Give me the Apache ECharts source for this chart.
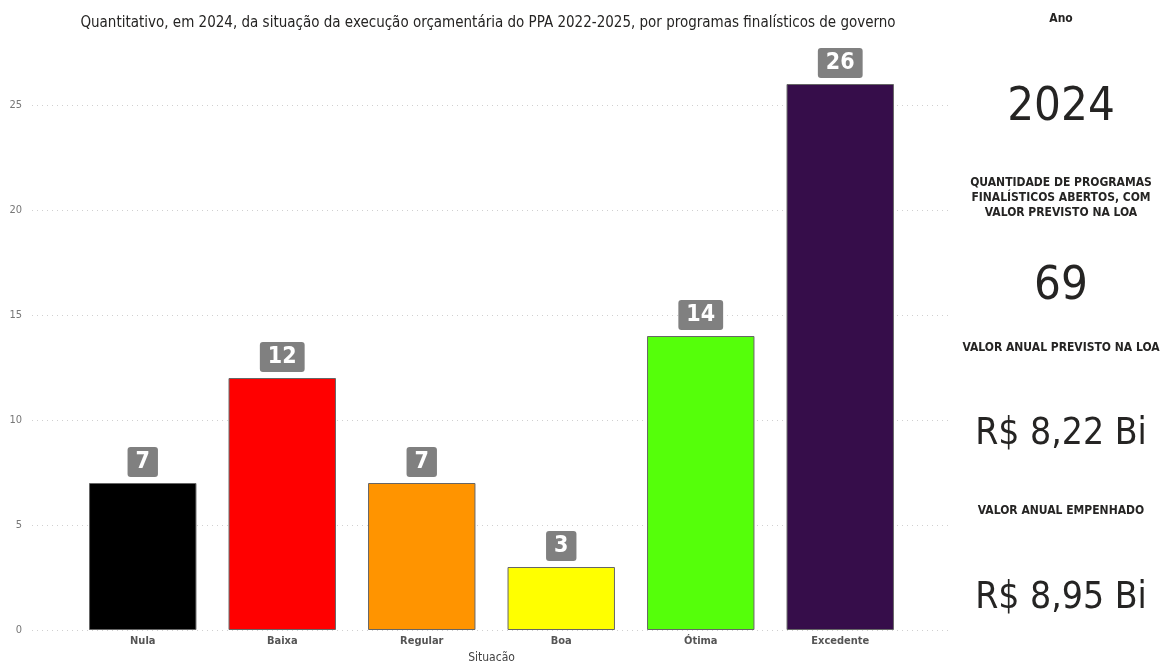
<!DOCTYPE html>
<html><head><meta charset="utf-8">
<script src="https://cdn.jsdelivr.net/npm/echarts@6/dist/echarts.min.js"></script>
<style>html,body{margin:0;padding:0;background:#fff}#c{width:1160px;height:661px}</style>
</head><body><div id="c"></div>
<script>
const categories = ['Nula', 'Baixa', 'Regular', 'Boa', 'Ótima', 'Excedente'];
const values = [7, 12, 7, 3, 14, 26];
const colors = ['#000000', '#ff0000', '#ff9400', '#ffff00', '#55ff0a', '#360d4a'];
const yTicks = [0, 5, 10, 15, 20, 25];
const titleText = 'Quantitativo, em 2024, da situação da execução orçamentária do PPA 2022-2025, por programas finalísticos de governo';
const panelLabels = ['Ano', 'QUANTIDADE DE PROGRAMAS\nFINALÍSTICOS ABERTOS, COM\nVALOR PREVISTO NA LOA', 'VALOR ANUAL PREVISTO NA LOA', 'VALOR ANUAL EMPENHADO'];
const panelValues = ['2024', '69', 'R$ 8,22 Bi', 'R$ 8,95 Bi'];

const FONT = '"DejaVu Sans Condensed", "Liberation Sans Narrow", sans-serif';
const chart = echarts.init(document.getElementById('c'));
const yMax = 28;
const unit = 21;
const labelY = [19, 198, 348, 511];
const valueY = [108, 287, 434, 598];
const graphics = [];
panelLabels.forEach((t, i) => graphics.push({
  type: 'text', position: [1061, labelY[i]],
  style: { text: t, x: 0, y: 0, textAlign: 'center', textVerticalAlign: 'middle', font: 'bold 12px ' + FONT, fill: '#252423', lineHeight: 15 }
}));
panelValues.forEach((t, i) => graphics.push({
  type: 'text', position: [1061, valueY[i]],
  style: { text: t, x: 0, y: 0, textAlign: 'center', textVerticalAlign: 'middle', font: (i < 2 ? '47px ' : '37px ') + FONT, fill: '#252423' }
}));

chart.setOption({
  animation: false,
  title: { text: titleText, left: 483, top: 11, textAlign: 'center',
    textStyle: { fontFamily: FONT, fontSize: 15, fontWeight: 'normal', color: '#252423' } },
  graphic: graphics,
  grid: [
    { left: 73, width: 837, top: 630 - yMax * unit, bottom: 31, outerBoundsMode: 'none', containLabel: false },
    { left: 32, right: 212, top: 630 - 25 * unit, bottom: 31, outerBoundsMode: 'none', containLabel: false }
  ],
  xAxis: [
    { type: 'category', gridIndex: 0, data: categories,
      axisLine: { show: false }, axisTick: { show: false },
      axisLabel: { color: '#555', fontFamily: FONT, fontSize: 11, fontWeight: 'bold', margin: 6 },
      name: 'Situação', nameLocation: 'middle', nameGap: 21,
      nameTextStyle: { color: '#444', fontFamily: FONT, fontSize: 12 } },
    { type: 'value', gridIndex: 1, min: 0, max: 1, show: false }
  ],
  yAxis: [
    { type: 'value', gridIndex: 0, min: 0, max: yMax, show: false, splitLine: { show: false } },
    { type: 'value', gridIndex: 1, min: 0, max: 25, interval: 5,
      axisLine: { show: false }, axisTick: { show: false },
      axisLabel: { color: '#777', fontFamily: FONT, fontSize: 11, margin: 10,
        formatter: v => yTicks.includes(v) ? String(v) : '' },
      splitLine: { lineStyle: { type: [1, 4], color: '#d0d0d0', width: 1 } } }
  ],
  series: [{
    type: 'bar', xAxisIndex: 0, yAxisIndex: 0,
    data: values.map((v, i) => ({ value: v, itemStyle: { color: colors[i] } })),
    barCategoryGap: '23%',
    itemStyle: { borderColor: '#666', borderWidth: 1 },
    label: { show: true, position: 'top', distance: 6,
      backgroundColor: '#808080', borderRadius: 3, padding: [3, 8, 3, 8],
      color: '#fff', fontFamily: FONT, fontSize: 23, fontWeight: 'bold', lineHeight: 24 }
  }]
});
</script></body></html>
